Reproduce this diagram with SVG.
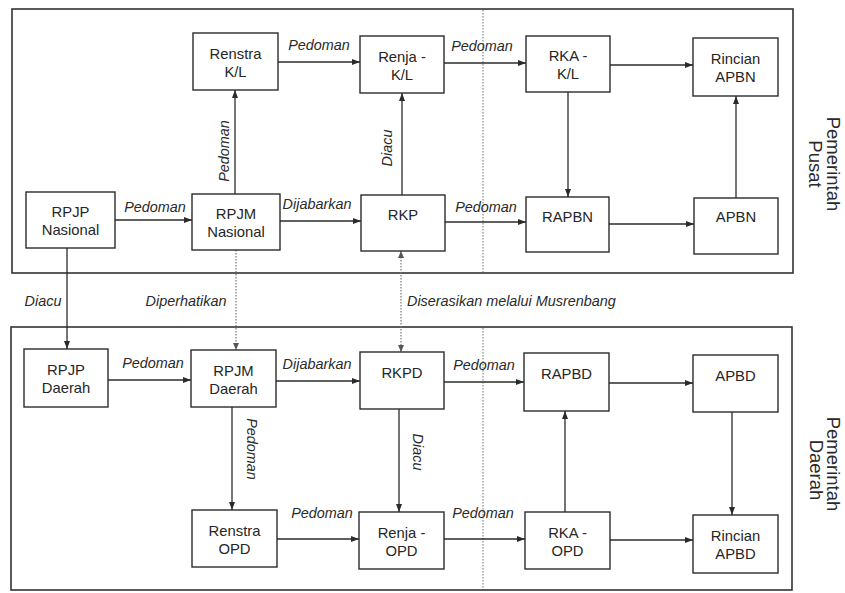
<svg xmlns="http://www.w3.org/2000/svg" width="845" height="593" viewBox="0 0 845 593">
<defs>
<marker id="ah" viewBox="0 0 8 6" refX="8" refY="3" markerWidth="8" markerHeight="6" markerUnits="userSpaceOnUse" orient="auto-start-reverse">
<path d="M0,0 L8,3 L0,6 z" fill="#2b2b2b"/>
</marker>
<marker id="ahs" viewBox="0 0 7 6" refX="7" refY="3" markerWidth="7" markerHeight="6" markerUnits="userSpaceOnUse" orient="auto-start-reverse">
<path d="M0,0 L7,3 L0,6 z" fill="#555"/>
</marker>
</defs>
<style>
.panel{fill:none;stroke:#333;stroke-width:1.6}
.div{fill:none;stroke:#888;stroke-width:1.2;stroke-dasharray:1.5 1.5}
.box rect{fill:#fff;stroke:#2b2b2b;stroke-width:1.4}
.box text{font-family:"Liberation Sans",Arial,sans-serif;font-size:14.8px;fill:#262626;text-anchor:middle}
.c{fill:none;stroke:#2b2b2b;stroke-width:1.3;marker-end:url(#ah)}
.d{fill:none;stroke:#777;stroke-width:1.2;stroke-dasharray:1.5 1.5;marker-end:url(#ahs)}
.lbl{font-family:"Liberation Sans",Arial,sans-serif;font-size:14.4px;font-style:italic;fill:#2a2a2a;text-anchor:middle}
.side{font-family:"Liberation Sans",Arial,sans-serif;font-size:18.5px;fill:#2a2a2a;text-anchor:middle}
</style>
<rect width="845" height="593" fill="#fff"/>

<g id="panels">
<rect class="panel" x="12" y="9" width="781" height="264"/>
<rect class="panel" x="11" y="327" width="781" height="263"/>
<line class="div" x1="483" y1="10" x2="483" y2="272"/>
<line class="div" x1="483" y1="328" x2="483" y2="589"/>
</g>

<g id="connectors">
<path class="c" d="M278,62 H360"/>
<path class="c" d="M444,63 H526"/>
<path class="c" d="M610,65 H693"/>
<path class="c" d="M115,220 H192"/>
<path class="c" d="M280,221 H361"/>
<path class="c" d="M445,222 H526"/>
<path class="c" d="M609,224 H694"/>
<path class="c" d="M235,194 V90"/>
<path class="c" d="M402,195 V93"/>
<path class="c" d="M568,92 V197"/>
<path class="c" d="M736,198 V96"/>
<path class="c" d="M67,248 V349"/>
<path class="d" d="M236,250 V350"/>
<path class="d" d="M401,251 V352" style="marker-start:url(#ahs)"/>
<path class="c" d="M108,380 H191"/>
<path class="c" d="M276,381 H360"/>
<path class="c" d="M444,382 H524"/>
<path class="c" d="M609,383 H693"/>
<path class="c" d="M232,407 V510"/>
<path class="c" d="M399,409 V512"/>
<path class="c" d="M565,512 V411"/>
<path class="c" d="M732,412 V515"/>
<path class="c" d="M277,539 H359"/>
<path class="c" d="M444,539 H525"/>
<path class="c" d="M610,540 H693"/>
</g>

<g id="labels">
<text class="lbl" x="319" y="50">Pedoman</text>
<text class="lbl" x="482" y="51">Pedoman</text>
<text class="lbl" transform="translate(229,151) rotate(-90)">Pedoman</text>
<text class="lbl" transform="translate(392,148) rotate(-90)">Diacu</text>
<text class="lbl" x="155" y="212">Pedoman</text>
<text class="lbl" x="317" y="209">Dijabarkan</text>
<text class="lbl" x="486" y="212">Pedoman</text>
<text class="lbl" x="43" y="306">Diacu</text>
<text class="lbl" x="186" y="306">Diperhatikan</text>
<text class="lbl" x="407" y="306" style="text-anchor:start">Diserasikan melalui Musrenbang</text>
<text class="lbl" x="153" y="368">Pedoman</text>
<text class="lbl" x="317" y="369">Dijabarkan</text>
<text class="lbl" x="484" y="370">Pedoman</text>
<text class="lbl" transform="translate(247,449) rotate(90)">Pedoman</text>
<text class="lbl" transform="translate(413,452) rotate(90)">Diacu</text>
<text class="lbl" x="322" y="518">Pedoman</text>
<text class="lbl" x="483" y="518">Pedoman</text>
<text class="side" transform="translate(827,164) rotate(90)">Pemerintah</text>
<text class="side" transform="translate(809,164) rotate(90)">Pusat</text>
<text class="side" transform="translate(827,464) rotate(90)">Pemerintah</text>
<text class="side" transform="translate(810,470) rotate(90)">Daerah</text>
</g>

<g id="renstra_kl" class="box"><rect x="193" y="33" width="85" height="57"/><text x="235.5" y="58.5">Renstra</text><text x="235.5" y="76.5">K/L</text></g>
<g id="renja_kl" class="box"><rect x="360" y="36" width="84" height="57"/><text x="402" y="61.5">Renja -</text><text x="402" y="79.5">K/L</text></g>
<g id="rka_kl" class="box"><rect x="526" y="36" width="84" height="56"/><text x="568" y="61">RKA -</text><text x="568" y="79">K/L</text></g>
<g id="rincian_apbn" class="box"><rect x="693" y="38" width="85" height="58"/><text x="735.5" y="64">Rincian</text><text x="735.5" y="82">APBN</text></g>
<g id="rpjp_nasional" class="box"><rect x="26" y="192" width="89" height="56"/><text x="70.5" y="217">RPJP</text><text x="70.5" y="235">Nasional</text></g>
<g id="rpjm_nasional" class="box"><rect x="192" y="194" width="88" height="56"/><text x="236" y="219">RPJM</text><text x="236" y="237">Nasional</text></g>
<g id="rkp" class="box"><rect x="361" y="195" width="84" height="56"/><text x="403" y="220">RKP</text></g>
<g id="rapbn" class="box"><rect x="526" y="197" width="83" height="55"/><text x="567.5" y="221.5">RAPBN</text></g>
<g id="apbn" class="box"><rect x="694" y="198" width="84" height="56"/><text x="736" y="222">APBN</text></g>

<g id="rpjp_daerah" class="box"><rect x="24" y="349" width="84" height="58"/><text x="66" y="375">RPJP</text><text x="66" y="393">Daerah</text></g>
<g id="rpjm_daerah" class="box"><rect x="191" y="350" width="85" height="57"/><text x="233.5" y="375.5">RPJM</text><text x="233.5" y="393.5">Daerah</text></g>
<g id="rkpd" class="box"><rect x="360" y="352" width="84" height="57"/><text x="402" y="377.5">RKPD</text></g>
<g id="rapbd" class="box"><rect x="524" y="353" width="85" height="58"/><text x="566.5" y="379">RAPBD</text></g>
<g id="apbd" class="box"><rect x="693" y="355" width="85" height="57"/><text x="735.5" y="380.5">APBD</text></g>
<g id="renstra_opd" class="box"><rect x="192" y="510" width="85" height="57"/><text x="234.5" y="535.5">Renstra</text><text x="234.5" y="553.5">OPD</text></g>
<g id="renja_opd" class="box"><rect x="359" y="512" width="85" height="57"/><text x="401.5" y="537.5">Renja -</text><text x="401.5" y="555.5">OPD</text></g>
<g id="rka_opd" class="box"><rect x="525" y="512" width="85" height="57"/><text x="567.5" y="537.5">RKA -</text><text x="567.5" y="555.5">OPD</text></g>
<g id="rincian_apbd" class="box"><rect x="693" y="515" width="85" height="58"/><text x="735.5" y="541">Rincian</text><text x="735.5" y="559">APBD</text></g>
</svg>
